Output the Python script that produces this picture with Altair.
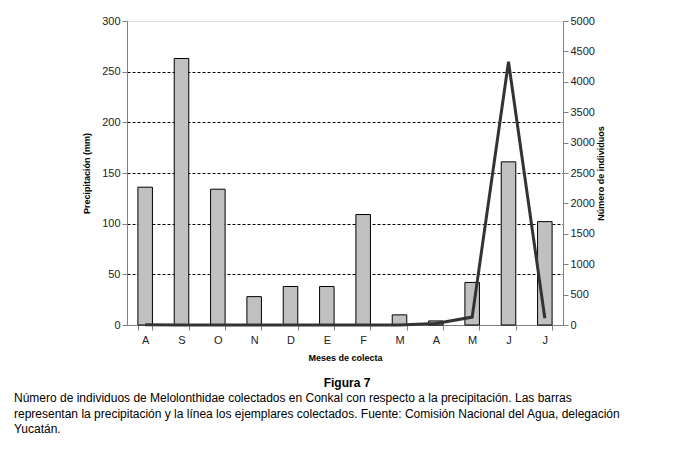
import altair as alt
import pandas as pd

months = ["A", "S", "O", "N", "D", "E", "F", "M", "A", "M", "J", "J"]
precip = [136, 263, 134, 28, 38, 38, 109, 10, 4, 42, 161, 102]
individuos = [5, 0, 0, 0, 0, 0, 0, 0, 25, 130, 4330, 110]
figure_label = "Figura 7"
caption_lines = [
    "Número de individuos de Melolonthidae colectados en Conkal con respecto a la precipitación. Las barras",
    "representan la precipitación y la línea los ejemplares colectados. Fuente: Comisión Nacional del Agua, delegación",
    "Yucatán.",
]

df = pd.DataFrame({"idx": list(range(len(months))), "mes": months,
                   "precip": precip, "ind": individuos})
label_expr = "[" + ",".join(f"'{m}'" for m in months) + "][datum.value]"

FONT = "Liberation Sans"

x = alt.X(
    "idx:O",
    scale=alt.Scale(paddingInner=0.6, paddingOuter=0.3),
    axis=alt.Axis(
        title="Meses de colecta", labelExpr=label_expr, labelAngle=0,
        tickBand="extent", labelFont=FONT, labelFontSize=11, labelColor="#222",
        titleFont=FONT, titleFontSize=9, titleFontWeight="bold", titlePadding=8,
        domainColor="#808080", tickColor="#808080", tickSize=5, labelPadding=4,
    ),
)

base = alt.Chart(df)

bars = base.mark_bar(color="#c0c0c0", stroke="#000000", strokeWidth=1).encode(
    x=x,
    y=alt.Y(
        "precip:Q",
        scale=alt.Scale(domain=[0, 300]),
        axis=alt.Axis(
            title="Precipitación (mm)", values=[0, 50, 100, 150, 200, 250, 300],
            grid=True, gridDash=[3, 2], gridColor="#000000", gridWidth=1,
            gridOpacity={"condition": {"test": "datum.value >= 300", "value": 0}, "value": 1},
            labelFont=FONT, labelFontSize=11, labelColor="#222",
            titleFont=FONT, titleFontSize=9, titleFontWeight="bold", titlePadding=10,
            domainColor="#808080", tickColor="#808080", tickSize=5,
        ),
    ),
)

line = base.mark_line(color="#333333", strokeWidth=3).encode(
    x=x,
    y=alt.Y(
        "ind:Q",
        scale=alt.Scale(domain=[0, 5000]),
        axis=alt.Axis(
            orient="right", title="Número de individuos", format="d",
            values=list(range(0, 5001, 500)), grid=False,
            labelFont=FONT, labelFontSize=11, labelColor="#222",
            titleFont=FONT, titleFontSize=9, titleFontWeight="bold",
            titleAngle=270, titlePadding=11,
            domainColor="#808080", tickColor="#808080", tickSize=5,
        ),
    ),
)

cap_df = pd.DataFrame({"fig": [figure_label], "cap": ["\n".join(caption_lines)]})
fig_text = alt.Chart(cap_df).mark_text(
    font=FONT, fontSize=12, fontWeight="bold", align="center", baseline="middle",
    color="#000"
).encode(text="fig:N", x=alt.value(220), y=alt.value(362))
cap_text = alt.Chart(cap_df).mark_text(
    font=FONT, fontSize=12, align="left", baseline="middle", lineBreak="\n",
    lineHeight=15.5, color="#000"
).encode(text="cap:N", x=alt.value(-113), y=alt.value(377))

chart = alt.layer(bars, line, fig_text, cap_text).resolve_scale(y="independent").properties(
    width=436, height=304,
    autosize=alt.AutoSizeParams(type="none"),
    padding={"left": 119, "top": 13, "right": 111, "bottom": 112},
).configure_view(stroke="#808080", strokeWidth=1).configure(background="white")

chart.save("out.html", embed_options={"renderer": "svg", "actions": False})
